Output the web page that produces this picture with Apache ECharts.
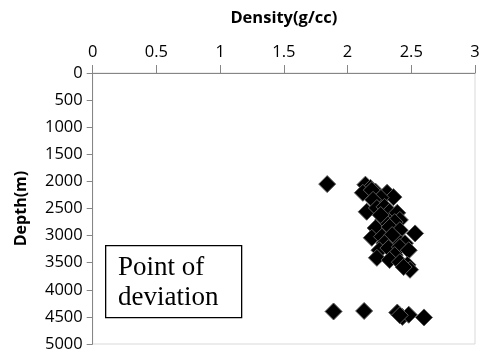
<!DOCTYPE html>
<html>
<head>
<meta charset="utf-8">
<script src="https://cdn.jsdelivr.net/npm/echarts@6/dist/echarts.min.js"></script>
<style>html,body{margin:0;padding:0;background:#fff}#c{width:479px;height:354px}</style>
</head>
<body>
<div id="c"></div>
<script>
const xTitle = 'Density(g/cc)';
const yTitle = 'Depth(m)';
const annotationLines = ['Point of', 'deviation'];
const density = [1.84, 1.89, 2.13, 2.39, 2.43, 2.48, 2.60, 2.41,
  2.14, 2.18, 2.12, 2.22, 2.31, 2.36, 2.26, 2.19, 2.20, 2.15, 2.23, 2.29, 2.33, 2.39,
  2.41, 2.28, 2.26, 2.37, 2.22, 2.33, 2.41, 2.19, 2.27, 2.39, 2.35, 2.53, 2.29, 2.45,
  2.25, 2.32, 2.41, 2.48, 2.37, 2.23, 2.33, 2.41, 2.47, 2.49, 2.44];
const depth = [2050, 4400, 4390, 4420, 4500, 4460, 4510, 4470,
  2060, 2120, 2210, 2190, 2210, 2290, 2300, 2160, 2340, 2560, 2490, 2470, 2560, 2580,
  2710, 2710, 2620, 2750, 2860, 2840, 2900, 3040, 3020, 3080, 2990, 2960, 3140, 3140,
  3270, 3230, 3210, 3270, 3360, 3410, 3450, 3490, 3540, 3630, 3580];

const points = density.map((d, i) => [d, depth[i]]);
const chart = echarts.init(document.getElementById('c'));
const axisColor = '#868686';
const font = 'Open Sans';
chart.setOption({
  animation: false,
  grid: {left: 92.7, right: 4, top: 73, bottom: 10, show: true, borderColor: '#d9d9d9', borderWidth: 1,
         outerBoundsMode: 'none', containLabel: false},
  xAxis: {
    type: 'value', position: 'top', min: 0, max: 3, interval: 0.5,
    name: xTitle, nameLocation: 'middle', nameGap: 46,
    nameTextStyle: {fontFamily: font, fontWeight: 'bold', fontSize: 16.5, color: '#000'},
    axisLine: {show: true, lineStyle: {color: axisColor, width: 1}},
    axisTick: {show: true, inside: false, length: 8, lineStyle: {color: axisColor}},
    axisLabel: {fontFamily: font, fontSize: 16.5, color: '#000', margin: 12},
    splitLine: {show: false}
  },
  yAxis: {
    type: 'value', inverse: true, min: 0, max: 5000, interval: 500,
    name: yTitle, nameLocation: 'middle', nameGap: 63, nameRotate: 90,
    nameTextStyle: {fontFamily: font, fontWeight: 'bold', fontSize: 16, color: '#000'},
    axisLine: {show: true, lineStyle: {color: axisColor, width: 1}},
    axisTick: {show: true, inside: false, length: 6, lineStyle: {color: axisColor}},
    axisLabel: {fontFamily: font, fontSize: 16.5, color: '#000', margin: 10, formatter: v => String(v)},
    splitLine: {show: false}
  },
  series: [{
    type: 'scatter', data: points, symbol: 'diamond', symbolSize: 17,
    itemStyle: {color: '#000', borderColor: '#5a5a5a', borderWidth: 1, opacity: 1}
  }],
  graphic: [{
    type: 'rect', left: 105, top: 245, z: 10,
    shape: {width: 136, height: 72},
    style: {fill: '#fff', stroke: '#000', lineWidth: 1.3}
  }, {
    type: 'text', left: 118, top: 253, z: 11,
    style: {text: annotationLines.join('\n'), fontFamily: 'Liberation Serif', fontSize: 27, lineHeight: 30, fill: '#000'}
  }]
});
</script>
</body>
</html>
